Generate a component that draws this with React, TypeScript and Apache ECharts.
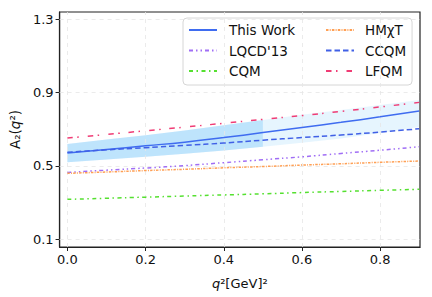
import React, { useEffect, useRef } from "react";
import * as echarts from "echarts";

const qValues = [0, 0.1, 0.2, 0.3, 0.4, 0.5, 0.6, 0.7, 0.8, 0.9];
const thisWork = [0.571, 0.59, 0.61, 0.63, 0.655, 0.682, 0.71, 0.738, 0.768, 0.8];
const bandUpper = [0.62, 0.645, 0.668, 0.693, 0.722, 0.751, 0.78, 0.806, 0.833, 0.86];
const bandLower = [0.52, 0.535, 0.55, 0.567, 0.585, 0.605, 0.627, 0.65, 0.68, 0.712];
const darkBandEnd = 0.5;
const lqcd13 = [0.465, 0.477, 0.489, 0.502, 0.518, 0.534, 0.55, 0.568, 0.586, 0.605];
const cqm = [0.318, 0.324, 0.33, 0.336, 0.342, 0.348, 0.355, 0.361, 0.367, 0.373];
const hmxt = [0.46, 0.467, 0.475, 0.482, 0.49, 0.497, 0.505, 0.512, 0.52, 0.527];
const ccqm = [0.575, 0.588, 0.6, 0.612, 0.625, 0.641, 0.655, 0.669, 0.685, 0.703];
const lfqm = [0.652, 0.672, 0.692, 0.712, 0.733, 0.754, 0.775, 0.798, 0.822, 0.847];

const xTicks = [0, 0.2, 0.4, 0.6, 0.8];
const yTicks = [0.1, 0.5, 0.9, 1.3];

const FONT = "DejaVu Sans";

export default function App() {
  const ref = useRef<HTMLDivElement>(null);
  useEffect(() => {
    if (!ref.current) return;
    const chart = echarts.init(ref.current, null, { renderer: "svg" });
    const pairs = (ys: number[]) => qValues.map((x, i) => [x, ys[i]]);
    const lineSeries = (name: string, ys: number[], color: string, type: any, width = 1.5) => ({
      name,
      type: "line",
      data: pairs(ys),
      symbol: "none",
      smooth: true,
      lineStyle: { color, width, type },
      itemStyle: { color },
      z: 5,
    });
    const bandSeries = (maxX: number, color: string, z: number) => ({
      type: "custom",
      silent: true,
      z,
      data: [[0]],
      renderItem: (params: any, api: any) => {
        const idx = qValues.map((_, i) => i).filter((i) => qValues[i] <= maxX + 1e-9);
        const top = idx.map((i) => api.coord([qValues[i], bandUpper[i]]));
        const bot = idx.map((i) => api.coord([qValues[i], bandLower[i]])).reverse();
        return {
          type: "polygon",
          shape: { points: top.concat(bot) },
          style: { fill: color, stroke: "none" },
        };
      },
    });
    const gridStyle = { color: "#e6e6e6", type: [4, 4], width: 0.8 };
    const legendCommon = {
      orient: "vertical",
      top: 18,
      itemWidth: 28,
      itemHeight: 12,
      itemGap: 4.5,
      itemStyle: { opacity: 0, color: "transparent", borderWidth: 0 },
    };
    const option: any = {
      animation: false,
      textStyle: { fontFamily: FONT },
      grid: {
        left: 58,
        right: 12,
        top: 12,
        bottom: 50,
        show: true,
        borderColor: "#222",
        borderWidth: 1.2,
        backgroundColor: "transparent",
      },
      xAxis: {
        type: "value",
        min: -0.02,
        max: 0.902,
        name: "{i|q}²[GeV]²",
        nameLocation: "middle",
        nameGap: 30,
        nameTextStyle: {
          fontFamily: FONT,
          fontSize: 13,
          color: "#111",
          rich: { i: { fontStyle: "italic", fontFamily: FONT, fontSize: 13, color: "#111" } },
        },
        axisLine: { show: true, onZero: false, lineStyle: { color: "#222", width: 1.2 } },
        axisTick: { show: true, customValues: xTicks, length: 4, lineStyle: { color: "#222" } },
        axisLabel: {
          customValues: xTicks,
          margin: 6,
          fontSize: 13,
          fontFamily: FONT,
          color: "#111",
          formatter: (v: number) => v.toFixed(1),
        },
        splitLine: { show: false },
      },
      yAxis: {
        type: "value",
        min: 0.058,
        max: 1.34,
        name: "A₂({i|q}²)",
        nameLocation: "middle",
        nameGap: 36,
        nameTextStyle: {
          fontFamily: FONT,
          fontSize: 13.5,
          color: "#111",
          rich: { i: { fontStyle: "italic", fontFamily: FONT, fontSize: 13.5, color: "#111" } },
        },
        axisLine: { show: true, onZero: false, lineStyle: { color: "#222", width: 1.2 } },
        axisTick: { show: true, customValues: yTicks, length: 4, lineStyle: { color: "#222" } },
        axisLabel: {
          customValues: yTicks,
          margin: 6,
          fontSize: 13,
          fontFamily: FONT,
          color: "#111",
          formatter: (v: number) => v.toFixed(1),
        },
        splitLine: { show: false },
      },
      legend: [
        {
          ...legendCommon,
          data: ["This Work", "LQCD'13", "CQM"],
          left: 183,
          padding: [4, 117, 6, 5],
          backgroundColor: "rgba(255,255,255,0.85)",
          borderColor: "#d6d6d6",
          borderWidth: 1,
          borderRadius: 4,
          textStyle: { fontFamily: FONT, fontSize: 13.5, color: "#111", lineHeight: 16, padding: [0, 0, 0, 7] },
        },
        {
          ...legendCommon,
          data: ["HMχT", "CCQM", "LFQM"],
          left: 320,
          padding: [4, 5, 6, 5],
          textStyle: { fontFamily: FONT, fontSize: 13.5, color: "#111", lineHeight: 16, padding: [0, 0, 0, 6] },
        },
      ],
      series: [
        {
          type: "line",
          data: [],
          silent: true,
          markLine: {
            silent: true,
            symbol: "none",
            label: { show: false },
            lineStyle: gridStyle,
            data: xTicks.map((v) => ({ xAxis: v })).concat(yTicks.map((v) => ({ yAxis: v }) as any)),
          },
          z: 0,
        },
        bandSeries(0.9, "rgba(135,206,250,0.21)", 1),
        bandSeries(darkBandEnd, "rgba(135,206,250,0.42)", 2),
        lineSeries("This Work", thisWork, "#3f6cf0", "solid", 1.5),
        lineSeries("LQCD'13", lqcd13, "#a06ef5", [4, 3, 1.5, 3, 1.5, 3]),
        lineSeries("CQM", cqm, "#55e030", [4, 3.5, 1.5, 3.5]),
        lineSeries("HMχT", hmxt, "#ffa055", [2.5, 1.2, 1, 1.2]),
        lineSeries("CCQM", ccqm, "#4060e6", [5.5, 3]),
        lineSeries("LFQM", lfqm, "#f03c75", [5.5, 4.5, 1.5, 9]),
      ],
    };
    chart.setOption(option);
    return () => chart.dispose();
  }, []);
  return <div ref={ref} style={{ width: 432, height: 297, position: "absolute", left: 0, top: 0 }} />;
}
